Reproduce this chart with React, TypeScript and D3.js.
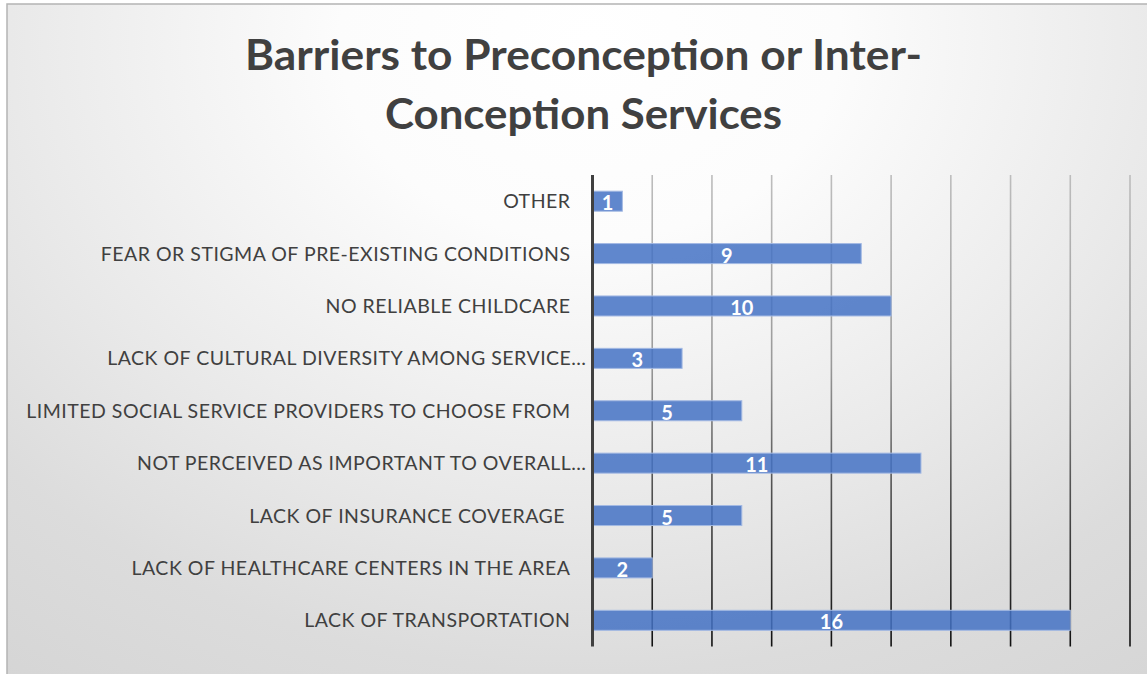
import React from "react";
import * as d3 from "d3";

const categories = [
  "OTHER",
  "FEAR OR STIGMA OF PRE-EXISTING CONDITIONS",
  "NO RELIABLE CHILDCARE",
  "LACK OF CULTURAL DIVERSITY AMONG SERVICE…",
  "LIMITED SOCIAL SERVICE PROVIDERS TO CHOOSE FROM",
  "NOT PERCEIVED AS IMPORTANT TO OVERALL…",
  "LACK OF INSURANCE COVERAGE ",
  "LACK OF HEALTHCARE CENTERS IN THE AREA",
  "LACK OF TRANSPORTATION",
];
const values = [1, 9, 10, 3, 5, 11, 5, 2, 16];
const gridTicks = [2, 4, 6, 8, 10, 12, 14, 16, 18];
const titleLines = ["Barriers to Preconception or Inter-", "Conception Services"];

const W = 1147;
const H = 674;
const plot = { left: 592.5, right: 1130, top: 175, bottom: 646.5 };

export default function App() {
  const x = d3.scaleLinear().domain([0, 18]).range([plot.left, plot.right]);
  const y = d3
    .scaleBand<string>()
    .domain(categories)
    .range([plot.top, plot.bottom])
    .paddingInner(0.618)
    .paddingOuter(0.309);
  const font = "Lato, 'Open Sans', sans-serif";
  return (
    <svg
      width={W}
      height={H}
      style={{ position: "absolute", left: 0, top: 0 }}
      xmlns="http://www.w3.org/2000/svg"
    >
      <defs>
        <radialGradient
          id="bg"
          gradientUnits="userSpaceOnUse"
          cx={590}
          cy={40}
          r={1000}
          gradientTransform="translate(590,40) scale(1,0.8) translate(-590,-40)"
        >
          <stop offset="0" stopColor="#ffffff" />
          <stop offset="0.25" stopColor="#fcfcfc" />
          <stop offset="0.58" stopColor="#e9e9e9" />
          <stop offset="0.79" stopColor="#dcdcdc" />
          <stop offset="1" stopColor="#d5d5d5" />
        </radialGradient>
        <linearGradient id="grid" gradientUnits="userSpaceOnUse" x1={0} y1={plot.top} x2={0} y2={plot.bottom}>
          <stop offset="0" stopColor="#bdbdbd" />
          <stop offset="0.4" stopColor="#9a9a9a" />
          <stop offset="0.65" stopColor="#555555" />
          <stop offset="1" stopColor="#111111" />
        </linearGradient>
      </defs>
      <rect x={7} y={4} width={W + 10} height={H + 10} fill="url(#bg)" stroke="#b4b4b4" strokeWidth={1.5} />
      {titleLines.map((t, i) => (
        <text
          key={t}
          x={583.5}
          y={70 + i * 59}
          textAnchor="middle"
          fontFamily={font}
          fontWeight={700}
          fontSize={41.5}
          fill="#404040"
          textLength={i === 0 ? 677 : 397}
          lengthAdjust="spacingAndGlyphs"
        >
          {t}
        </text>
      ))}
      {gridTicks.map((t) => (
        <line
          key={t}
          x1={x(t)}
          x2={x(t)}
          y1={plot.top}
          y2={plot.bottom}
          stroke="url(#grid)"
          strokeWidth={1.6}
        />
      ))}
      {categories.map((c, i) => {
        const yy = y(c)!;
        return (
          <g key={c}>
            <rect
              x={x(0) + 1}
              y={yy}
              width={x(values[i]) - x(0) - 1}
              height={y.bandwidth()}
              fill="#4472C4"
              fillOpacity={0.85}
              stroke="#a3b9e3"
              strokeWidth={1}
            />
            <text
              x={(x(0) + x(values[i])) / 2}
              y={yy + y.bandwidth() / 2 + 9}
              textAnchor="middle"
              fontFamily={font}
              fontWeight={700}
              fontSize={20}
              fill="#ffffff"
            >
              {values[i]}
            </text>
            <text
              x={c.endsWith("…") ? x(0) - 6 : x(0) - 22}
              y={yy + y.bandwidth() / 2 + 7}
              textAnchor="end"
              fontFamily={font}
              fontSize={19.5}
              letterSpacing={0.5}
              fill="#404040"
              style={{ whiteSpace: "pre" }}
            >
              {c}
            </text>
          </g>
        );
      })}
      <line x1={x(0)} x2={x(0)} y1={plot.top} y2={plot.bottom} stroke="#404040" strokeWidth={3} />
    </svg>
  );
}
